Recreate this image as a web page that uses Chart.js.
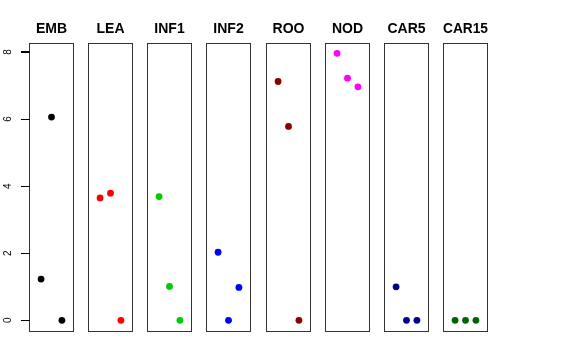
<!DOCTYPE html>
<html>
<head>
<meta charset="utf-8">
<script src="https://cdn.jsdelivr.net/npm/chart.js@4/dist/chart.umd.min.js"></script>
<style>
  body { margin: 0; background: #fff; }
  #wrap { position: relative; width: 576px; height: 360px; overflow: hidden; }
  #wrap canvas { position: absolute; top: 0; }
</style>
</head>
<body>
<div id="wrap"></div>
<script>
// --- DATA ---
const categories = ['EMB', 'LEA', 'INF1', 'INF2', 'ROO', 'NOD', 'CAR5', 'CAR15'];
const rep1 = [1.23, 3.65, 3.69, 2.03, 7.12, 7.96, 1.00, 0];
const rep2 = [6.06, 3.79, 1.01, 0, 5.78, 7.22, 0, 0];
const rep3 = [0, 0, 0, 0.98, 0, 6.96, 0, 0];
const xPos = [1, 2, 3];
const yTicks = [0, 2, 4, 6, 8];
const colors = ['#000000', '#FF0000', '#00CD00', '#0000FF', '#8B0000', '#FF00FF', '#00008B', '#006400'];

// --- LAYOUT ---
const firstLeft = 28.7;
const panelStep = 59.2;
const boxW = 45;
const boxTop = 43;
const boxBottom = 331;
const H = 360;
const fontFam = '"Liberation Sans", Arial, Helvetica, sans-serif';

// R-style frame around each panel, plus tick marks on the first one
const boxPlugin = {
    id: 'box',
    afterDraw(chart) {
        const a = chart.chartArea;
        const ctx = chart.ctx;
        ctx.save();
        ctx.strokeStyle = '#333';
        ctx.lineWidth = 1;
        ctx.strokeRect(Math.round(a.left) + 0.5, Math.round(a.top) + 0.5,
            Math.round(a.right - a.left) - 1, Math.round(a.bottom - a.top));
        const y = chart.scales.y;
        if (y.options.display) {
            ctx.strokeStyle = '#000';
            ctx.beginPath();
            y.ticks.forEach(t => {
                const py = Math.round(y.getPixelForValue(t.value)) + 0.5;
                ctx.moveTo(Math.round(a.left) - 8, py);
                ctx.lineTo(Math.round(a.left) + 1, py);
            });
            ctx.stroke();
        }
        ctx.restore();
    }
};

const wrap = document.getElementById('wrap');

categories.forEach((cat, i) => {
    const boxLeft = Math.round(firstLeft + i * panelStep);
    const first = i === 0;
    const canvas = document.createElement('canvas');
    const cLeft = first ? 0 : boxLeft - 4;
    const cWidth = boxLeft + boxW + 4 - cLeft;
    canvas.width = cWidth;
    canvas.height = H;
    canvas.style.left = cLeft + 'px';
    canvas.style.width = cWidth + 'px';
    canvas.style.height = H + 'px';
    wrap.appendChild(canvas);

    const yScale = {
        type: 'linear',
        display: first,
        min: -0.318,
        max: 8.268,
        afterBuildTicks: s => { s.ticks = yTicks.map(v => ({ value: v })); },
        border: { display: false },
        grid: { drawOnChartArea: false, drawTicks: true, tickLength: 8, color: '#000', lineWidth: 1 },
        ticks: {
            display: true,
            color: '#000',
            font: { family: fontFam, size: 10 },
            minRotation: 90,
            maxRotation: 90,
            crossAlign: 'center',
            padding: 10
        }
    };
    if (first) yScale.afterFit = s => { s.width = boxLeft; };

    new Chart(canvas, {
        type: 'scatter',
        data: {
            datasets: [{
                data: xPos.map((x, k) => ({ x: x, y: [rep1, rep2, rep3][k][i] })),
                backgroundColor: colors[i],
                borderWidth: 0,
                pointRadius: 3.4,
                clip: false
            }]
        },
        options: {
            responsive: false,
            animation: false,
            devicePixelRatio: 1,
            layout: {
                autoPadding: false,
                padding: { left: first ? 0 : 4, right: 4, top: 0, bottom: H - boxBottom }
            },
            plugins: {
                legend: { display: false },
                tooltip: { enabled: false },
                title: {
                    display: true,
                    text: cat,
                    fullSize: false,
                    color: '#000',
                    font: { family: fontFam, size: 14, weight: 'bold', lineHeight: 1.2 },
                    padding: { top: 20.8, bottom: boxTop - 20.8 - 16.8 }
                }
            },
            scales: {
                x: { type: 'linear', display: false, min: -0.16, max: 4.16 },
                y: yScale
            }
        },
        plugins: [boxPlugin]
    });
});
</script>
</body>
</html>
